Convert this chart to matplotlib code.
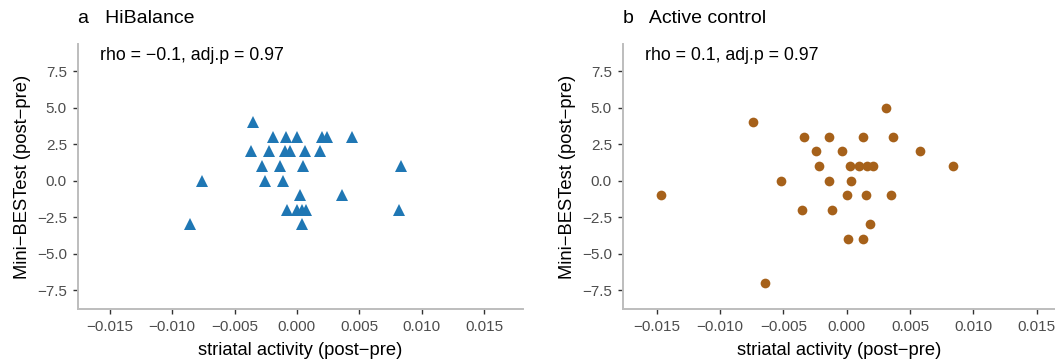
import numpy as np
import matplotlib
matplotlib.use("Agg")
import matplotlib.pyplot as plt
from matplotlib.ticker import FixedLocator, FuncFormatter

plt.rcParams['font.family'] = ['Liberation Sans', 'DejaVu Sans']

# HiBalance group: change in striatal activity vs change in Mini-BESTest
hib_x = [-0.00353,
         -0.00188, -0.00088, 0.0, 0.0020, 0.00245, 0.00441,
         -0.00366, -0.00222, -0.00099, -0.00054, 0.00067, 0.00187,
         -0.00276, -0.00139, 0.00048, 0.00836,
         -0.00761, -0.00254, -0.00112,
         0.00021, 0.00361,
         -0.0008, 0.0, 0.0004, 0.00075, 0.00822,
         -0.0086, 0.0004]
hib_y = [4,
         3, 3, 3, 3, 3, 3,
         2, 2, 2, 2, 2, 2,
         1, 1, 1, 1,
         0, 0, 0,
         -1, -1,
         -2, -2, -2, -2, -2,
         -3, -3]

# Active control group
ctl_x = [0.00308,
         -0.00742,
         -0.00337, -0.0014, 0.00129, 0.00368,
         -0.00242, -0.00037, 0.00579,
         -0.00216, 0.00028, 0.0010, 0.00158, 0.00205, 0.00839,
         -0.00521, -0.00137, 0.00032,
         -0.01467, 0.0, 0.00155, 0.0035,
         -0.00353, -0.00114,
         0.00186,
         0.00013, 0.00129,
         -0.00647]
ctl_y = [5,
         4,
         3, 3, 3, 3,
         2, 2, 2,
         1, 1, 1, 1, 1, 1,
         0, 0, 0,
         -1, -1, -1, -1,
         -2, -2,
         -3,
         -4, -4,
         -7]

x_ticks = [-0.015, -0.010, -0.005, 0.0, 0.005, 0.010, 0.015]
y_ticks = [-7.5, -5.0, -2.5, 0.0, 2.5, 5.0, 7.5]

W, H = 1055, 362
fig = plt.figure(figsize=(W / 100, H / 100), dpi=100)

def px_axes(left, right, top, bottom):
    return fig.add_axes([left / W, 1 - bottom / H, (right - left) / W, (bottom - top) / H])

def fmt(decimals):
    return FuncFormatter(lambda v, pos: f'{v:.{decimals}f}'.replace('-', '\u2212'))

ax_a = px_axes(78, 523, 44, 309)
ax_b = px_axes(623, 1055, 44, 309)

panels = [
    (ax_a, hib_x, hib_y, '^', 8.5, '#1f77b4', 'a   HiBalance',
     'rho = \u22120.1, adj.p = 0.97', (-0.01755, 0.01813)),
    (ax_b, ctl_x, ctl_y, 'o', 7, '#a6611a', 'b   Active control',
     'rho = 0.1, adj.p = 0.97', (-0.01766, 0.01644)),
]

grey = '#bdbdbd'
for ax, xs, ys, mk, ms, col, title, note, xl in panels:
    ax.plot(xs, ys, linestyle='none', marker=mk, markersize=ms,
            color=col, markeredgewidth=0, clip_on=False)
    ax.set_xlim(*xl)
    ax.set_ylim(-8.8, 9.35)
    ax.xaxis.set_major_locator(FixedLocator(x_ticks))
    ax.yaxis.set_major_locator(FixedLocator(y_ticks))
    ax.xaxis.set_major_formatter(fmt(3))
    ax.yaxis.set_major_formatter(fmt(1))
    for s in ['top', 'right']:
        ax.spines[s].set_visible(False)
    for s in ['left', 'bottom']:
        ax.spines[s].set_color(grey)
        ax.spines[s].set_linewidth(1.4)
    ax.tick_params(colors='#333333', labelcolor='#4d4d4d', labelsize=11,
                   length=3.5, width=1.0, pad=4.5)
    ax.set_xlabel('striatal activity (post\u2212pre)', fontsize=13.2, labelpad=6)
    ax.set_ylabel('Mini\u2212BESTest (post\u2212pre)', fontsize=13.2, labelpad=4)
    ax.set_title(title, loc='left', fontsize=14, pad=15)
    ax.text(0.05, 0.958, note, transform=ax.transAxes, fontsize=12.8,
            ha='left', va='center')

fig.savefig('out.png', dpi=100)
